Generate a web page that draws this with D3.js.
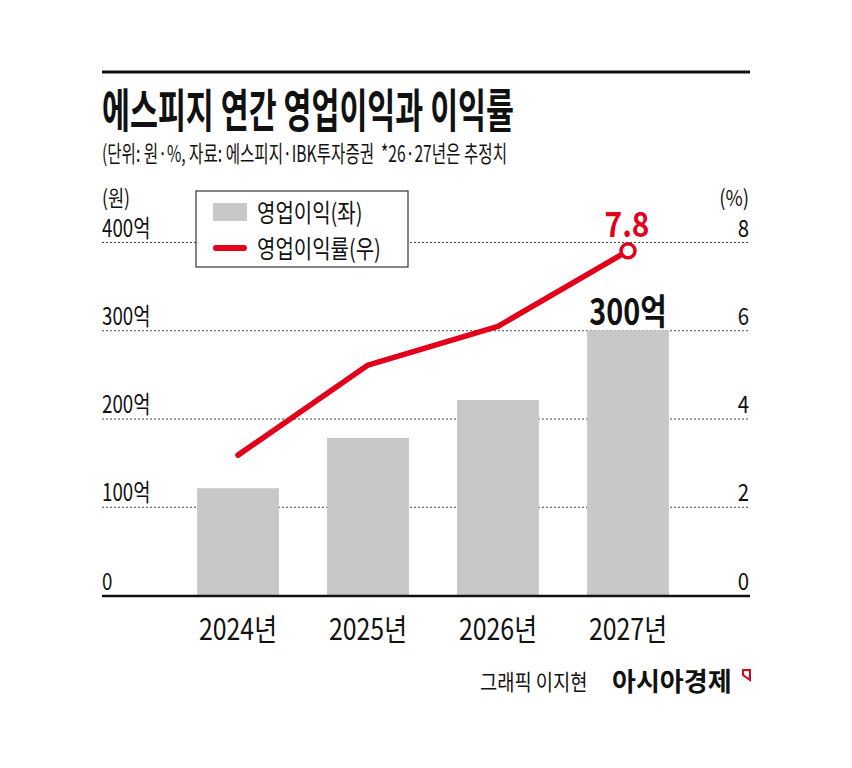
<!DOCTYPE html>
<html>
<head>
<meta charset="utf-8">
<script src="https://cdn.jsdelivr.net/npm/d3@7"></script>
<style>
  body { margin: 0; background: #fff; }
  svg text { font-family: "Noto Sans CJK KR", "Noto Sans", sans-serif; }
</style>
</head>
<body>
<div id="chart"></div>
<script>
// data
const years = ['2024년', '2025년', '2026년', '2027년'];
const profit = [121, 178, 221, 300];      // 영업이익, 억원
const margin = [3.17, 5.21, 6.09, 7.8];   // 영업이익률, %
const leftTicks = [0, 100, 200, 300, 400];
const rightTicks = [0, 2, 4, 6, 8];

const W = 852, H = 768;
const red = '#e2001b', barColor = '#c8c8ca';
const plotL = 102, plotR = 750, plotTop = 242, plotBottom = 595;

const svg = d3.select('#chart').append('svg')
  .attr('width', W).attr('height', H);

svg.append('rect').attr('width', W).attr('height', H).attr('fill', '#fff');

// condensed text helper
function txt(str, x, y, size, opts) {
  opts = opts || {};
  return svg.append('text')
    .attr('transform', 'translate(' + x + ',' + y + ') scale(' + (opts.sx || 0.75) + ',1)')
    .attr('text-anchor', opts.anchor || 'start')
    .attr('font-size', size)
    .attr('font-weight', opts.weight || 400)
    .attr('fill', opts.fill || '#111')
    .text(str);
}

// header
svg.append('line').attr('x1', plotL).attr('x2', plotR).attr('y1', 72).attr('y2', 72)
  .attr('stroke', '#111').attr('stroke-width', 3);
svg.append('text').attr('x', plotL).attr('y', 127)
  .attr('font-size', 46).attr('font-weight', 700).attr('fill', '#111')
  .attr('textLength', 412).attr('lengthAdjust', 'spacingAndGlyphs')
  .text('에스피지 연간 영업이익과 이익률');
svg.append('text').attr('x', plotL).attr('y', 162)
  .attr('font-size', 23).attr('fill', '#111')
  .attr('textLength', 405).attr('lengthAdjust', 'spacingAndGlyphs')
  .style('white-space', 'pre')
  .text('(단위: 원·%, 자료: 에스피지·IBK투자증권  *26·27년은 추정치');

// scales
const x = d3.scaleBand().domain(years).range([173, 693])
  .paddingInner(0.37).paddingOuter(0.185);
const yL = d3.scaleLinear().domain([0, 400]).range([plotBottom, plotTop]);
const yR = d3.scaleLinear().domain([0, 8]).range([plotBottom, plotTop]);

// grid + left labels
const gL = svg.append('g').attr('transform', 'translate(' + plotL + ',0)')
  .call(d3.axisLeft(yL).tickValues(leftTicks).tickSize(-(plotR - plotL))
    .tickFormat(d => d === 0 ? '0' : d + '억'));
gL.select('.domain').remove();
gL.selectAll('.tick line')
  .attr('stroke', '#444').attr('stroke-width', 1).attr('stroke-dasharray', '2,2');
gL.selectAll('.tick text')
  .attr('x', 0).attr('dy', null).attr('y', -6)
  .attr('text-anchor', 'start').attr('font-size', 24).attr('fill', '#111')
  .attr('transform', 'scale(0.78,1)');

// right labels
const gR = svg.append('g').attr('transform', 'translate(' + (plotR - 1) + ',0)')
  .call(d3.axisRight(yR).tickValues(rightTicks).tickSize(0).tickFormat(d3.format('d')));
gR.select('.domain').remove();
gR.selectAll('.tick text')
  .attr('x', 0).attr('dy', null).attr('y', -6)
  .attr('text-anchor', 'end').attr('font-size', 24).attr('fill', '#111')
  .attr('transform', 'scale(0.85,1)');

txt('(원)', plotL, 206, 22, { sx: 0.8 });
txt('(%)', plotR - 1, 206, 22, { sx: 0.85, anchor: 'end' });

// bars
svg.append('g').selectAll('rect').data(profit).join('rect')
  .attr('x', (d, i) => x(years[i]))
  .attr('width', x.bandwidth())
  .attr('y', d => yL(d))
  .attr('height', d => yL(0) - yL(d))
  .attr('fill', barColor);

// baseline
svg.append('line').attr('x1', plotL).attr('x2', plotR)
  .attr('y1', plotBottom + 1).attr('y2', plotBottom + 1)
  .attr('stroke', '#111').attr('stroke-width', 2.5);

// x labels
const gX = svg.append('g').attr('transform', 'translate(0,' + plotBottom + ')')
  .call(d3.axisBottom(x).tickSize(0));
gX.select('.domain').remove();
gX.selectAll('.tick text')
  .attr('y', 45).attr('dy', null).attr('font-size', 30).attr('fill', '#111')
  .attr('transform', 'scale(0.83,1)');

// line
const cx = (d, i) => x(years[i]) + x.bandwidth() / 2;
const line = d3.line().x(cx).y(d => yR(d));
svg.append('path').datum(margin)
  .attr('d', line).attr('fill', 'none')
  .attr('stroke', red).attr('stroke-width', 5.5)
  .attr('stroke-linecap', 'round').attr('stroke-linejoin', 'round');

const last = margin.length - 1;
svg.append('circle')
  .attr('cx', cx(margin[last], last)).attr('cy', yR(margin[last]))
  .attr('r', 7).attr('fill', '#fff').attr('stroke', red).attr('stroke-width', 3.5);

// value labels
txt(margin[last].toFixed(1), cx(margin[last], last) - 1, yR(margin[last]) - 14, 34,
  { weight: 700, fill: red, anchor: 'middle', sx: 0.88 });
txt(profit[last] + '억', cx(profit[last], last), yL(profit[last]) - 5, 36,
  { weight: 700, anchor: 'middle', sx: 0.8 });

// legend
const lg = svg.append('g').attr('transform', 'translate(196,191)');
lg.append('rect').attr('width', 212).attr('height', 76)
  .attr('fill', '#fff').attr('stroke', '#333').attr('stroke-width', 1.2);
lg.append('rect').attr('x', 17).attr('y', 12).attr('width', 34).attr('height', 18)
  .attr('fill', barColor);
lg.append('line').attr('x1', 20).attr('x2', 48).attr('y1', 57).attr('y2', 57)
  .attr('stroke', red).attr('stroke-width', 6).attr('stroke-linecap', 'round');
lg.append('text').attr('transform', 'translate(61,31) scale(0.8,1)')
  .attr('font-size', 25).attr('fill', '#111').text('영업이익(좌)');
lg.append('text').attr('transform', 'translate(61,67) scale(0.8,1)')
  .attr('font-size', 25).attr('fill', '#111').text('영업이익률(우)');

// footer
txt('그래픽 이지현', 480, 690, 22, { sx: 0.85 });
txt('아시아경제', 612, 691, 26, { weight: 700, sx: 1 });
svg.append('path')
  .attr('d', 'M743,670 L750,670 L750,680 L743,675 Z')
  .attr('fill', 'none').attr('stroke', red).attr('stroke-width', 2)
  .attr('stroke-linejoin', 'miter');
</script>
</body>
</html>
